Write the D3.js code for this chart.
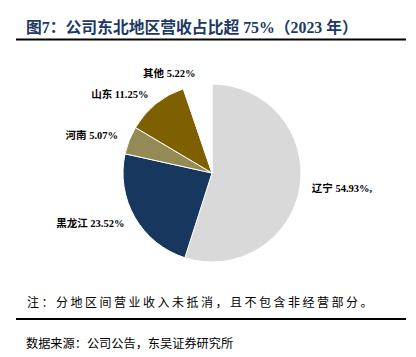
<!DOCTYPE html>
<html><head><meta charset="utf-8">
<script src="https://cdn.jsdelivr.net/npm/d3@7/dist/d3.min.js"></script>
<style>body{margin:0;background:#fff}svg{display:block}</style>
</head><body>
<script>
const regions = ["辽宁", "黑龙江", "河南", "山东", "其他"];
const shares = [54.93, 23.52, 5.07, 11.25, 5.22];
const labelSuffix = [",", "", "", "", ""];
const colors = ["#d9d9d9", "#17375e", "#948a54", "#7f6000", "#ffffff"];
const titleText = "图7：公司东北地区营收占比超 75%（2023 年）";
const noteText = "注：分地区间营业收入未抵消，且不包含非经营部分。";
const sourceText = "数据来源：公司公告，东吴证券研究所";

const W = 416, H = 357;
const svg = d3.select("body").append("svg").attr("width", W).attr("height", H);
const serif = "'Liberation Serif','Noto Sans CJK SC',serif";
const cjk = "'Noto Sans CJK SC','Liberation Serif',serif";

svg.append("text").attr("x", 26).attr("y", 27).attr("dominant-baseline", "central")
  .attr("font-family", serif).attr("font-weight", "bold").attr("font-size", 15.8)
  .attr("fill", "#203864").text(titleText);
svg.append("line").attr("x1", 16).attr("x2", 406).attr("y1", 39.5).attr("y2", 39.5)
  .attr("stroke", "#000").attr("stroke-width", 2);

const cx = 212, cy = 173, r = 89;
const data = regions.map((d, i) => ({name: d, value: shares[i], color: colors[i], suffix: labelSuffix[i]}));
const pie = d3.pie().value(d => d.value).sort(null);
const arc = d3.arc().innerRadius(0).outerRadius(r);
const arcs = pie(data);
const g = svg.append("g").attr("transform", `translate(${cx},${cy})`);
g.selectAll("path").data(arcs).join("path")
  .attr("d", arc).attr("fill", d => d.data.color)
  .attr("stroke", "#fff").attr("stroke-width", 1);

const lr = 101;
g.selectAll("text.lbl").data(arcs).join("text").attr("class", "lbl")
  .each(function(d) {
    const a = (d.startAngle + d.endAngle) / 2;
    const x = lr * Math.sin(a), y = -lr * Math.cos(a);
    d3.select(this).attr("x", x).attr("y", y)
      .attr("text-anchor", Math.sin(a) > 0 ? "start" : "end");
  })
  .attr("dominant-baseline", "central")
  .attr("font-family", serif).attr("font-weight", "bold").attr("font-size", 10.5)
  .attr("fill", "#000")
  .text(d => `${d.data.name} ${d.data.value.toFixed(2)}%${d.data.suffix}`);

svg.append("text").attr("x", 27).attr("y", 301).attr("dominant-baseline", "central")
  .attr("font-family", cjk).attr("font-size", 12).attr("letter-spacing", 2.5)
  .attr("fill", "#000").text(noteText);
svg.append("line").attr("x1", 16).attr("x2", 406).attr("y1", 319).attr("y2", 319)
  .attr("stroke", "#000").attr("stroke-width", 2);
svg.append("text").attr("x", 26).attr("y", 343).attr("dominant-baseline", "central")
  .attr("font-family", cjk).attr("font-size", 12.2)
  .attr("fill", "#000").text(sourceText);
</script>
</body></html>
